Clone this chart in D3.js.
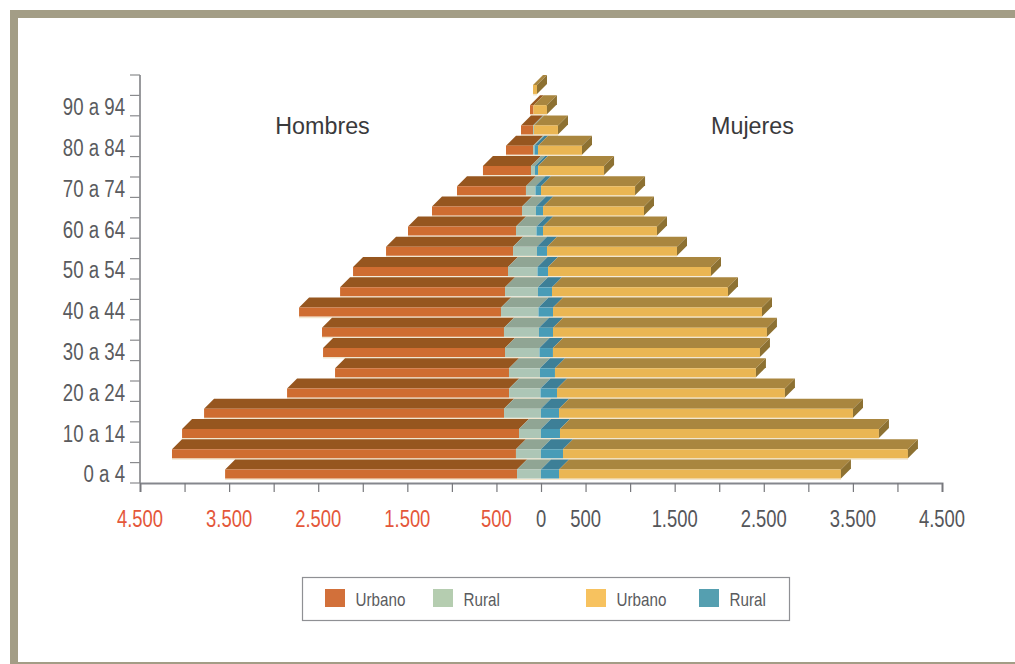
<!DOCTYPE html>
<html>
<head>
<meta charset="utf-8">
<script src="https://cdn.jsdelivr.net/npm/d3@7"></script>
<style>
  html, body { margin: 0; padding: 0; background: #fff; overflow: hidden; }
  svg { display: block; }
  text { font-family: "Liberation Sans", sans-serif; }
</style>
</head>
<body>
<svg width="1015" height="664"></svg>
<script>
// Data, youngest group first
const ages = ['0 a 4', '5 a 9', '10 a 14', '15 a 19', '20 a 24', '25 a 29', '30 a 34', '35 a 39', '40 a 44', '45 a 49',
    '50 a 54', '55 a 59', '60 a 64', '65 a 69', '70 a 74', '75 a 79', '80 a 84', '85 a 89', '90 a 94', '95 a 99']
const menUrban = [3276, 3860, 3781, 3366, 2491, 1952, 2042, 2042, 2266, 1851, 1739, 1425, 1212, 1010, 774, 539, 303, 135, 39, 0]
const menRural = [269, 281, 247, 415, 353, 348, 387, 393, 421, 370, 331, 269, 230, 157, 107, 45, 17, 11, 0, 0]
const womenRural = [202, 247, 213, 202, 185, 168, 151, 157, 163, 157, 118, 112, 73, 79, 62, 34, 39, 0, 0, 0]
const womenUrban = [3164, 3871, 3579, 3299, 2558, 2255, 2323, 2401, 2345, 1975, 1829, 1459, 1279, 1133, 1055, 741, 494, 269, 151, 45]
const xTicks = [-4500, -4000, -3500, -3000, -2500, -2000, -1500, -1000, -500, 0, 500, 1000, 1500, 2000, 2500, 3000, 3500, 4000, 4500]
const xLabels = [-4500, -3500, -2500, -1500, -500, 0, 500, 1500, 2500, 3500, 4500]
const legendItems = [
    { name: 'Urbano', front: '#d2703a', at: 325 },
    { name: 'Rural', front: '#b5cdb0', at: 433 },
    { name: 'Urbano', front: '#f7c25f', at: 586 },
    { name: 'Rural', front: '#559fb0', at: 699 }
]

const colors = {
    menUrban: { front: '#cf6d31', top: '#96561f' },
    menRural: { front: '#adc6b6', top: '#90a594' },
    womenRural: { front: '#489cb7', top: '#3d7f97' },
    womenUrban: { front: '#eab653', top: '#a9863f', side: '#8d7132' }
}

const svg = d3.select('svg')

// the original type is a narrow grotesque, no such font here so squeeze the text
function condense(sel, k) {
    sel.each(function () {
        d3.select(this)
            .attr('textLength', this.getComputedTextLength() * k)
            .attr('lengthAdjust', 'spacingAndGlyphs')
    })
}

// Frame
svg.append('rect').attr('x', 10).attr('y', 10).attr('width', 1005).attr('height', 654).attr('fill', '#a39d86')
svg.append('rect').attr('x', 18).attr('y', 18).attr('width', 997).attr('height', 644).attr('fill', '#fff')

// Scales
const x = d3.scaleLinear().domain([-4500, 4500]).range([140, 942])
const y = d3.scaleBand().domain(ages).range([483, 75])
// in the original the bars are stacked a bit tighter than the axis ticks
const yBars = d3.scaleBand().domain(ages).range([483, 78.2])
// and the centre line leans a little to the left going up
const lean = d3.scaleLinear().domain([0, 3, 19]).range([0, 0, -8])

const depth = 10
const frontH = 9
const topH = 10

// Build the stacked segments row by row
const segments = []
const sides = []
ages.forEach((age, i) => {
    const parts = [
        { key: 'menUrban', from: -menRural[i] - menUrban[i], to: -menRural[i] },
        { key: 'menRural', from: -menRural[i], to: 0 },
        { key: 'womenRural', from: 0, to: womenRural[i] },
        { key: 'womenUrban', from: womenRural[i], to: womenRural[i] + womenUrban[i] }
    ]
    parts.forEach(p => {
        if (p.to > p.from) segments.push({ age, i, key: p.key, x0: x(p.from) + lean(i), x1: x(p.to) + lean(i) })
    })
    sides.push({ age, x0: x(-menRural[i] - menUrban[i]) + lean(i), x1: x(womenRural[i] + womenUrban[i]) + lean(i) })
})

const bottom = d => yBars(d.age) + yBars.bandwidth() - 4.5
const pts = a => a.map(p => p.join(',')).join(' ')

const bars = svg.append('g')

// pale line under each bar
bars.selectAll('.shade')
    .data(sides)
    .join('line')
    .attr('x1', d => d.x0)
    .attr('x2', d => d.x1)
    .attr('y1', d => bottom(d) + 0.8)
    .attr('y2', d => bottom(d) + 0.8)
    .attr('stroke', '#f1e6cf')
    .attr('stroke-width', 1.5)

bars.selectAll('.top')
    .data(segments)
    .join('polygon')
    .attr('points', d => {
        const b = bottom(d) - frontH
        return pts([[d.x0, b], [d.x0 + depth, b - topH], [d.x1 + depth, b - topH], [d.x1, b]])
    })
    .attr('fill', d => colors[d.key].top)

bars.selectAll('.front')
    .data(segments)
    .join('polygon')
    .attr('points', d => {
        const b = bottom(d)
        return pts([[d.x0, b], [d.x0, b - frontH], [d.x1, b - frontH], [d.x1, b]])
    })
    .attr('fill', d => colors[d.key].front)

bars.selectAll('.side')
    .data(sides)
    .join('polygon')
    .attr('points', d => {
        const b = bottom(d)
        return pts([[d.x1, b], [d.x1, b - frontH], [d.x1 + depth, b - frontH - topH], [d.x1 + depth, b - topH]])
    })
    .attr('fill', colors.womenUrban.side)

// Y axis
const yAxis = svg.append('g')
const yEdges = ages.map(a => y(a) + y.bandwidth()).concat([y(ages[ages.length - 1])])
yAxis.append('line')
    .attr('x1', 140).attr('x2', 140)
    .attr('y1', y.range()[1]).attr('y2', y.range()[0])
    .attr('stroke', '#77787c').attr('stroke-width', 1.5)
yAxis.selectAll('.tick')
    .data(yEdges)
    .join('line')
    .attr('x1', 130).attr('x2', 140)
    .attr('y1', d => d).attr('y2', d => d)
    .attr('stroke', '#8a8b8e').attr('stroke-width', 1.2)
yAxis.selectAll('text')
    .data(ages.filter((d, i) => i % 2 === 0))
    .join('text')
    .attr('x', 125)
    .attr('y', d => y(d) + y.bandwidth() / 2 + 9.5)
    .attr('text-anchor', 'end')
    .attr('font-size', 23)
    .attr('fill', '#5a5b5e')
    .text(d => d)
    .call(condense, 0.81)

// X axis
const fmt = d3.formatLocale({ decimal: ',', thousands: '.', grouping: [3], currency: ['', ''] }).format(',')
const xAxis = svg.append('g').attr('transform', 'translate(0,483)')
xAxis.call(d3.axisBottom(x).tickValues(xTicks).tickSize(9).tickFormat(''))
xAxis.select('.domain').attr('stroke', '#85878d').attr('stroke-width', 2)
xAxis.selectAll('.tick line').attr('stroke', '#77787c').attr('stroke-width', 1.2)
xAxis.selectAll('.label')
    .data(xLabels)
    .join('text')
    .attr('x', d => x(d))
    .attr('y', 44)
    .attr('text-anchor', 'middle')
    .attr('font-size', 23)
    .attr('fill', d => d < 0 ? '#e4573a' : '#55565a')
    .text(d => fmt(Math.abs(d)))
    .call(condense, 0.8)

// Titles
svg.selectAll('.title')
    .data([{ t: 'Hombres', x: 322.5 }, { t: 'Mujeres', x: 752.5 }])
    .join('text')
    .attr('x', d => d.x)
    .attr('y', 134)
    .attr('text-anchor', 'middle')
    .attr('font-size', 23.3)
    .attr('fill', '#3a3a3c')
    .text(d => d.t)

// Legend
const legend = svg.append('g')
legend.append('rect')
    .attr('x', 302.5).attr('y', 577.5).attr('width', 487).attr('height', 43)
    .attr('fill', '#fff').attr('stroke', '#8f9094').attr('stroke-width', 1.2)
legend.selectAll('rect.swatch')
    .data(legendItems)
    .join('rect')
    .attr('class', 'swatch')
    .attr('x', d => d.at).attr('y', 589).attr('width', 20).attr('height', 18)
    .attr('fill', d => d.front)
legend.selectAll('text')
    .data(legendItems)
    .join('text')
    .attr('x', d => d.at + 30.5)
    .attr('y', 606)
    .attr('font-size', 19)
    .attr('fill', '#5a5b5e')
    .text(d => d.name)
    .call(condense, 0.8)
</script>
</body>
</html>
